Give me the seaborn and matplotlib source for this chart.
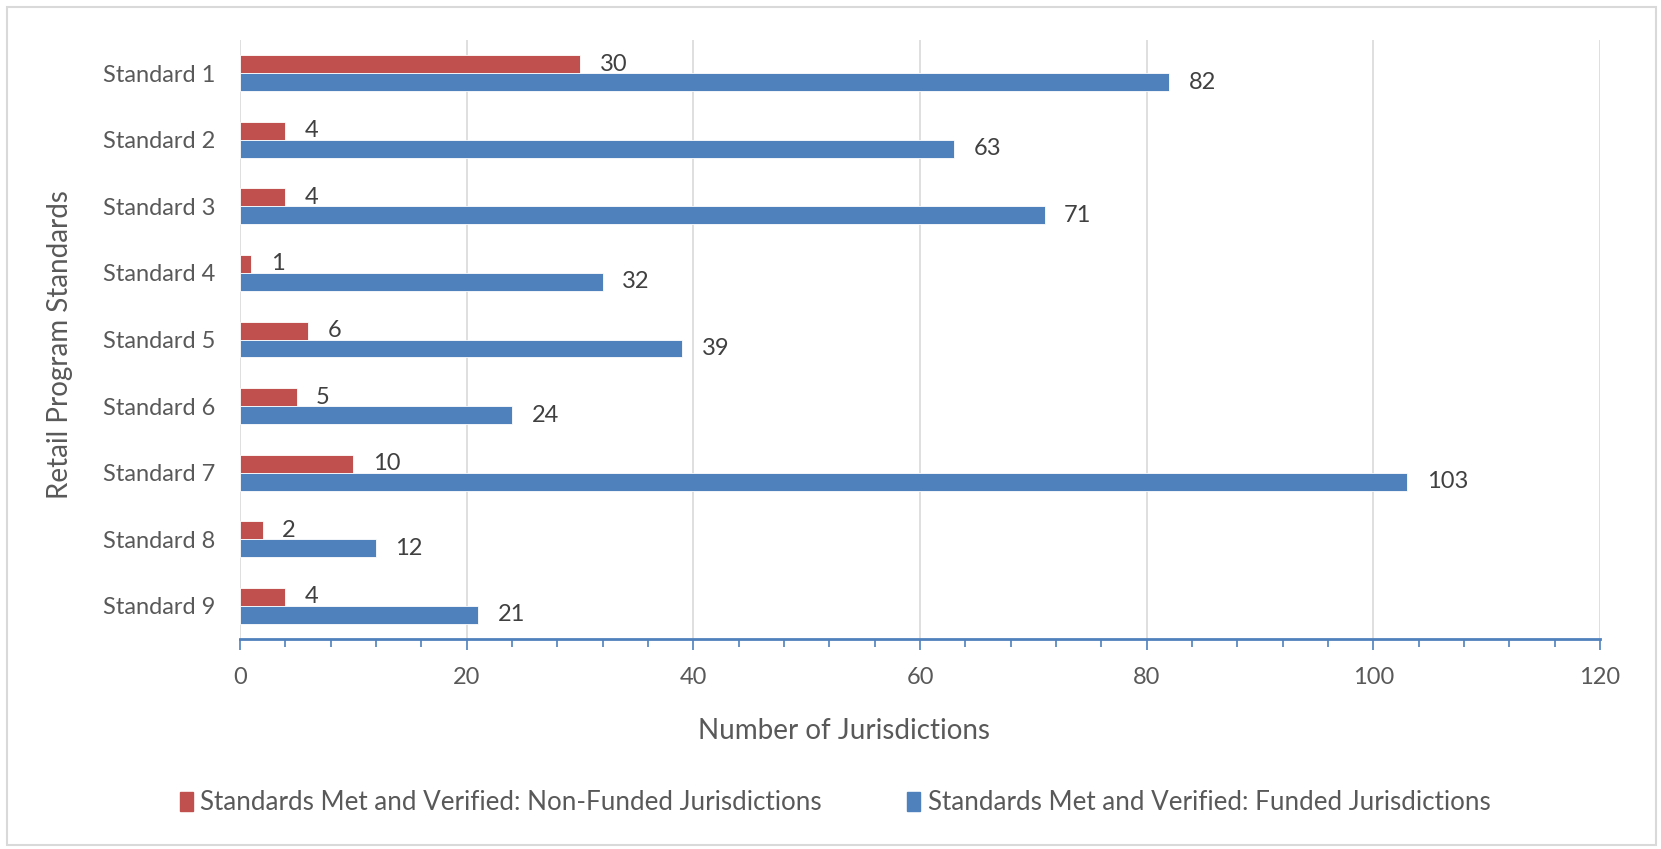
import matplotlib
matplotlib.use("Agg")
import matplotlib.pyplot as plt
import matplotlib.patches as mpatches
from matplotlib.ticker import MultipleLocator
import seaborn as sns
import pandas as pd

# ---- data ----
categories = [f"Standard {i}" for i in range(1, 10)]
non_funded = [30, 4, 4, 1, 6, 5, 10, 2, 4]
funded = [82, 63, 71, 32, 39, 24, 103, 12, 21]
series_names = ["Standards Met and Verified: Non-Funded Jurisdictions",
                "Standards Met and Verified: Funded Jurisdictions"]
x_ticks = [0, 20, 40, 60, 80, 100, 120]

RED = "#C0504D"
BLUE = "#4F81BD"
TEXT = "#595959"
GRID = "#D9D9D9"

df = pd.DataFrame({
    "Standard": categories * 2,
    "Value": non_funded + funded,
    "Series": [series_names[0]] * len(categories) + [series_names[1]] * len(categories),
})

sns.set_theme(style="white")
plt.rcParams["font.family"] = ["Lato", "DejaVu Sans"]

fig = plt.figure(figsize=(16.61, 8.49), dpi=100)
ax = fig.add_axes([240 / 1661, 1 - 639 / 849, (1600 - 240) / 1661, (639 - 40) / 849])

sns.barplot(data=df, y="Standard", x="Value", hue="Series", order=categories,
            hue_order=series_names, palette=[RED, BLUE], orient="h",
            width=0.54, dodge=True, ax=ax, legend=False,
            edgecolor="white", linewidth=0.6, saturation=1)

for cont in ax.containers:
    ax.bar_label(cont, labels=[f"{int(v)}" for v in cont.datavalues],
                 padding=14, fontsize=17, color="#404040")

ax.set_xlim(0, 120)
ax.set_xticks(x_ticks)
ax.xaxis.set_minor_locator(MultipleLocator(4))
ax.tick_params(axis="x", which="both", direction="out", colors=BLUE,
               labelcolor=TEXT, labelsize=17, pad=12, bottom=True)
ax.tick_params(axis="x", which="major", length=8, width=1.2)
ax.tick_params(axis="x", which="minor", length=6, width=1.2)
ax.tick_params(axis="y", left=False, labelsize=17, labelcolor=TEXT, pad=12)
ax.grid(axis="x", which="major", color=GRID, linewidth=1.2)
ax.set_axisbelow(True)
for s in ["top", "right", "left"]:
    ax.spines[s].set_visible(False)
ax.spines["bottom"].set_color(BLUE)
ax.spines["bottom"].set_linewidth(2)

ax.set_xlabel("")
ax.set_ylabel("")
fig.text(60 / 1661, 1 - 345 / 849, "Retail Program Standards", rotation=90,
         ha="center", va="center", fontsize=20, color=TEXT)
fig.text(844 / 1661, 1 - 731 / 849, "Number of Jurisdictions", ha="center",
         va="center", fontsize=20, color=TEXT)

handles = [mpatches.Patch(color=RED), mpatches.Patch(color=BLUE)]
fig.legend(handles, series_names, loc="center", bbox_to_anchor=(835 / 1661, 1 - 803 / 849),
           ncol=2, frameon=False, fontsize=18.7, labelcolor=TEXT,
           handlelength=0.5, handleheight=0.72, handletextpad=0.28, columnspacing=3.3)

# outer chart border
fig.patches.append(mpatches.Rectangle((7 / 1661, 4 / 849), 1649 / 1661, 838 / 849,
                                      transform=fig.transFigure, fill=False,
                                      edgecolor=GRID, linewidth=1.5))

fig.savefig("out.png", dpi=100)
